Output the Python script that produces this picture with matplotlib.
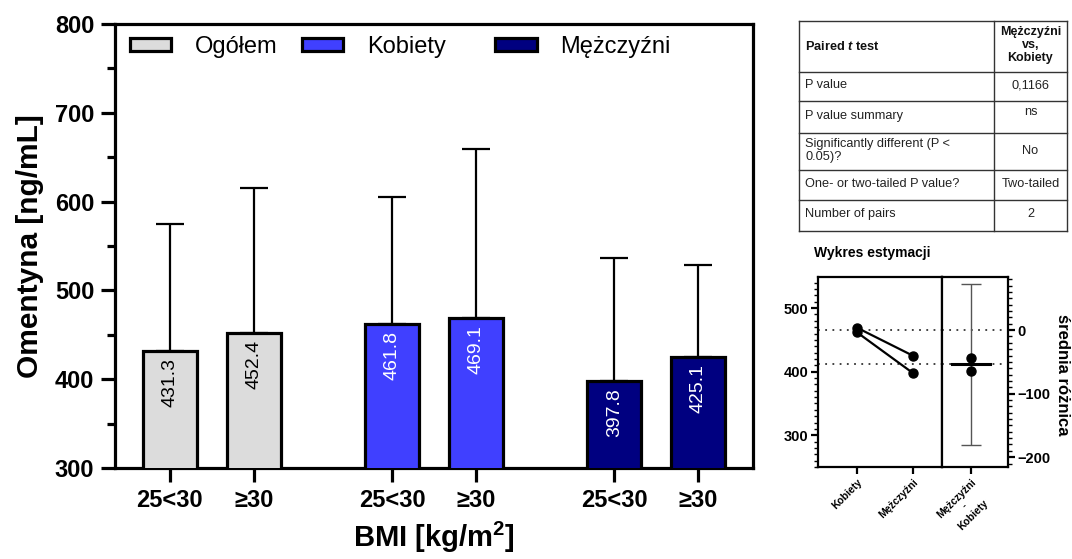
import matplotlib
matplotlib.use("Agg")
import matplotlib.pyplot as plt
from matplotlib.legend import Legend
from matplotlib.patches import Patch
from matplotlib.ticker import MultipleLocator

plt.rcParams["font.family"] = ["Liberation Sans", "DejaVu Sans"]
plt.rcParams["mathtext.fontset"] = "custom"
plt.rcParams["mathtext.rm"] = "Liberation Sans:bold"
plt.rcParams["mathtext.bf"] = "Liberation Sans:bold"
plt.rcParams["mathtext.it"] = "Liberation Sans:italic:bold"

# średnie i SD omentyny wg BMI
groups = ["Ogółem", "Kobiety", "Mężczyźni"]
bmi_labels = ["25<30", "≥30"]
ogolem_mean = [431.3, 452.4]
kobiety_mean = [461.8, 469.1]
mezczyzni_mean = [397.8, 425.1]
ogolem_sd = [143.7, 162.6]
kobiety_sd = [143.2, 190.0]
mezczyzni_sd = [139.0, 104.0]
colors = ["#dcdcdc", "#4040ff", "#000080"]
text_colors = ["black", "white", "white"]

# test t dla par + przedział ufności różnicy
table_rows = [
    ("P value", "0,1166"),
    ("P value summary", "ns"),
    ("Significantly different (P <\n0.05)?", "No"),
    ("One- or two-tailed P value?", "Two-tailed"),
    ("Number of pairs", "2"),
]
diff_ci = [-181.1, 73.1]

W, H = 1072, 559
fig = plt.figure(figsize=(W / 100, H / 100), dpi=100)

# --- wykres słupkowy ---
ax = fig.add_axes([115 / W, 1 - 468 / H, 638 / W, 444 / H])
group_x = [0.0, 2.65, 5.3]
means = [ogolem_mean, kobiety_mean, mezczyzni_mean]
sds = [ogolem_sd, kobiety_sd, mezczyzni_sd]
xticks = []
for gx, m, s, c, tc in zip(group_x, means, sds, colors, text_colors):
    xs = [gx, gx + 1]
    xticks += xs
    ax.bar(xs, m, width=0.64, bottom=0, color=c, edgecolor="black",
           linewidth=2.3, zorder=3)
    ax.errorbar(xs, m, yerr=[[0, 0], s], fmt="none", ecolor="black",
                elinewidth=1.6, capsize=10, capthick=1.6, zorder=2)
    for x, v in zip(xs, m):
        ax.annotate(f"{v:.1f}", (x, v), xytext=(0, -5),
                    textcoords="offset points", rotation=90, ha="center",
                    va="top", fontsize=14, color=tc, zorder=4)

ax.set_xlim(-0.655, 6.955)
ax.set_ylim(300, 800)
ax.set_xticks(xticks)
ax.set_xticklabels(bmi_labels * 3, fontsize=17, fontweight="bold")
ax.yaxis.set_major_locator(MultipleLocator(100))
ax.yaxis.set_minor_locator(MultipleLocator(50))
for lab in ax.get_yticklabels():
    lab.set_fontweight("bold")
    lab.set_fontsize(17)
ax.tick_params(axis="both", which="major", direction="out", length=10,
               width=2.3, pad=5)
ax.tick_params(axis="y", which="minor", direction="out", length=6, width=2.3)
for sp in ax.spines.values():
    sp.set_linewidth(2.3)
ax.set_ylabel("Omentyna [ng/mL]", fontsize=21.5, fontweight="bold", labelpad=8)
ax.set_xlabel("BMI [kg/m$^2$]", fontsize=21, fontweight="bold", labelpad=6)

# legenda: każdy wpis osobno, żeby ustawić odstępy
leg_x = [0.0235, 0.293, 0.596]
for c, name, lx in zip(colors, groups, leg_x):
    leg = Legend(ax, [Patch(facecolor=c, edgecolor="black", linewidth=2.3)],
                 [name], loc="upper left", bbox_to_anchor=(lx, 0.973),
                 frameon=False, fontsize=17, handlelength=1.75,
                 handleheight=0.45, handletextpad=1.0, borderpad=0,
                 borderaxespad=0)
    ax.add_artist(leg)

# --- tabela wyników testu ---
tx0, tx1, tcol = 799, 1067, 994
row_lines = [21, 72, 101, 133, 170, 200, 231]
axt = fig.add_axes([tx0 / W, 1 - 231 / H, (tx1 - tx0) / W, 210 / H])
axt.set_xlim(tx0, tx1)
axt.set_ylim(231, 21)
axt.axis("off")
lc = "#333333"
for y in row_lines:
    axt.plot([tx0, tx1], [y, y], color=lc, lw=1.0, clip_on=False)
for x in (tx0, tcol, tx1):
    axt.plot([x, x], [21, 231], color=lc, lw=1.0, clip_on=False)
axt.text(tx0 + 6, 46, "Paired $t$ test", fontsize=9.2, fontweight="bold",
         va="center", ha="left", color="#111111")
axt.text((tcol + tx1) / 2, 45, "Mężczyźni\nvs,\nKobiety", fontsize=9,
         fontweight="bold", va="center", ha="center", linespacing=1.15,
         color="#111111")
for (lab, val), y0, y1 in zip(table_rows, row_lines[1:-1], row_lines[2:]):
    yc = (y0 + y1) / 2 - 1
    axt.text(tx0 + 6, yc, lab, fontsize=9.2, va="center", ha="left",
             linespacing=1.2, color="#222222")
    yv = yc - 4 if val == "ns" else yc
    axt.text((tcol + tx1) / 2, yv, val, fontsize=9.2, va="center",
             ha="center", color="#222222")

# --- wykres estymacji ---
k_mean = sum(kobiety_mean) / len(kobiety_mean)
diffs = [m - k for m, k in zip(mezczyzni_mean, kobiety_mean)]
d_mean = sum(diffs) / len(diffs)
ylo, yhi = 250, 549

axl = fig.add_axes([818 / W, 1 - 467 / H, 124 / W, 190 / H])
axr = fig.add_axes([942 / W, 1 - 467 / H, 66 / W, 190 / H])

for k, m in zip(kobiety_mean, mezczyzni_mean):
    axl.plot([0, 1], [k, m], color="black", lw=1.6, marker="o",
             markersize=6.5, zorder=3)
axl.set_xlim(-0.70, 1.52)
axl.set_ylim(ylo, yhi)
axl.set_xticks([0, 1])
axl.set_xticklabels(["Kobiety", "Mężczyźni"])
axl.yaxis.set_major_locator(MultipleLocator(100))
axl.yaxis.set_minor_locator(MultipleLocator(10))

axr.set_xlim(-0.44, 0.56)
axr.set_ylim(ylo - k_mean, yhi - k_mean)
axr.errorbar([0], [d_mean], yerr=[[d_mean - diff_ci[0]], [diff_ci[1] - d_mean]],
             fmt="none", ecolor="#555555", elinewidth=1.0, capsize=7,
             capthick=1.0, zorder=2)
axr.plot([-0.29, 0.29], [d_mean, d_mean], color="black", lw=2.2, zorder=3)
axr.plot([0] * len(diffs), diffs, "o", color="black", markersize=6.5, zorder=4)
axr.set_xticks([0])
axr.set_xticklabels(["Mężczyźni\n-\nKobiety"])
axr.yaxis.tick_right()
axr.yaxis.set_major_locator(MultipleLocator(100))
axr.yaxis.set_minor_locator(MultipleLocator(10))

for a, y0 in ((axl, k_mean), (axl, k_mean + d_mean), (axr, 0), (axr, d_mean)):
    a.axhline(y0, color="#333333", lw=1.3, linestyle=(0, (1, 3)), zorder=1)

for a in (axl, axr):
    for sp in a.spines.values():
        sp.set_linewidth(1.6)
    a.tick_params(axis="both", which="major", direction="out", length=5,
                  width=1.6, labelsize=10.5, pad=2)
    a.tick_params(axis="y", which="minor", direction="out", length=3,
                  width=1.0)
    for lab in a.get_yticklabels():
        lab.set_fontweight("bold")
    for lab in a.get_xticklabels():
        lab.set_fontweight("bold")
        lab.set_fontsize(7.5)
        lab.set_rotation(45)
        lab.set_ha("right")
        lab.set_rotation_mode("anchor")
        lab.set_multialignment("center")
axr.tick_params(axis="y", which="both", left=False)

fig.text(872 / W, 1 - 253 / H, "Wykres estymacji", fontsize=10,
         fontweight="bold", ha="center", va="center")
fig.text(1063 / W, 1 - 375 / H, "średnia różnica", fontsize=12,
         fontweight="bold", ha="center", va="center", rotation=-90)

fig.savefig("out.png", dpi=100)
